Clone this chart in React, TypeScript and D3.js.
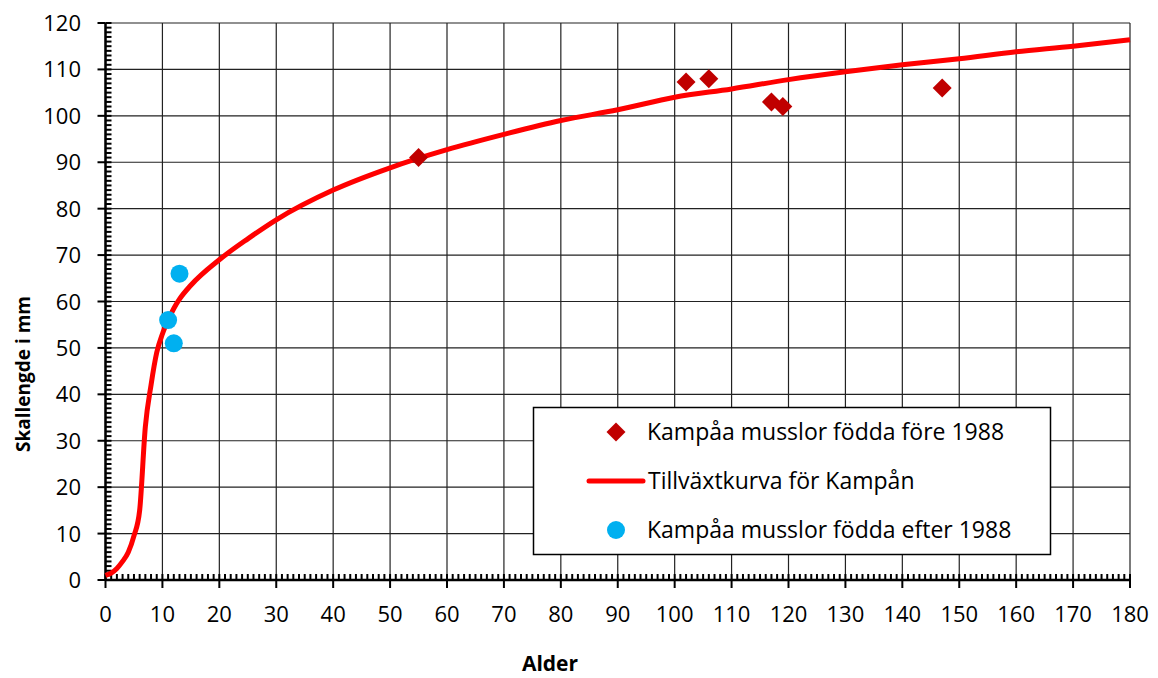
import { useMemo } from 'react';
import { scaleLinear, line, curveMonotoneX, range, symbol, symbolSquare } from 'd3';

// growth curve (age, shell length)
const curveAge = [0, 1, 2, 3, 4, 5, 6, 7, 8, 9, 10, 11, 12, 13, 15, 20, 25, 30, 40, 50, 60, 70, 80, 90, 100, 110, 120, 130, 140, 150, 160, 170, 180];
const curveLength = [1, 1.5, 2.5, 4, 6, 9.5, 15, 33, 42, 49, 53, 56, 58.5, 60.5, 63.5, 69, 73.5, 77.6, 84, 88.8, 92.7, 96, 99, 101.3, 104, 105.8, 107.8, 109.5, 111, 112.3, 113.8, 115, 116.4];

// mussels born before 1988
const oldAge = [55, 102, 106, 117, 119, 147];
const oldLength = [91, 107.3, 108, 103, 102, 106];

// mussels born after 1988
const youngAge = [11, 12, 13];
const youngLength = [56, 51, 66];

const xTicks = range(0, 181, 10);
const yTicks = range(0, 121, 10);

const legendLabels = [
  'Kampåa musslor födda före 1988',
  'Tillväxtkurva för Kampån',
  'Kampåa musslor födda efter 1988',
];

const W = 1158;
const H = 678;
const FONT = '"Open Sans", "Noto Sans", sans-serif';

export default function App() {
  const x = scaleLinear().domain([0, 180]).range([105.5, 1130]);
  const y = scaleLinear().domain([0, 120]).range([580, 23]);

  const curvePath = useMemo(() => {
    const pts = curveAge.map((a, i) => [a, curveLength[i]] as [number, number]);
    return line<[number, number]>()
      .x((d) => x(d[0]))
      .y((d) => y(d[1]))
      .curve(curveMonotoneX)(pts);
  }, []);

  // diamond = square turned 45 degrees
  const diamond = symbol().type(symbolSquare).size(180)() as string;
  const minorX = range(0, 181, 1);
  const minorY = range(0, 121, 1);

  return (
    <svg width={W} height={H} style={{ position: 'absolute', left: 0, top: 0, background: '#fff' }}>
      {/* grid */}
      <g stroke="#222" strokeWidth={1.2}>
        {xTicks.map((t) => (
          <line key={'gx' + t} x1={x(t)} x2={x(t)} y1={y(120)} y2={y(0)} />
        ))}
        {yTicks.map((t) => (
          <line key={'gy' + t} x1={x(0)} x2={x(180)} y1={y(t)} y2={y(t)} />
        ))}
      </g>

      {/* minor ticks, inside */}
      <g stroke="#000" strokeWidth={2}>
        {minorX.map((t) => (
          <line key={'mx' + t} x1={x(t)} x2={x(t)} y1={y(0)} y2={y(0) - 6} />
        ))}
        {minorY.map((t) => (
          <line key={'my' + t} x1={x(0)} x2={x(0) + 6} y1={y(t)} y2={y(t)} />
        ))}
      </g>

      {/* axes */}
      <g stroke="#000" strokeWidth={2.5}>
        <line x1={x(0)} x2={x(180)} y1={y(0)} y2={y(0)} />
        <line x1={x(0)} x2={x(0)} y1={y(0)} y2={y(120)} />
        {xTicks.map((t) => (
          <line key={'tx' + t} x1={x(t)} x2={x(t)} y1={y(0)} y2={y(0) + 8} strokeWidth={2} />
        ))}
        {yTicks.map((t) => (
          <line key={'ty' + t} x1={x(0) - 8} x2={x(0)} y1={y(t)} y2={y(t)} strokeWidth={2} />
        ))}
      </g>

      <g fontFamily={FONT} fontSize={22} fill="#000">
        {xTicks.map((t) => (
          <text key={'lx' + t} x={x(t)} y={622} textAnchor="middle">{t}</text>
        ))}
        {yTicks.map((t) => (
          <text key={'ly' + t} x={81} y={y(t) + 8} textAnchor="end">{t}</text>
        ))}
      </g>

      {/* series */}
      <path d={curvePath ?? ''} fill="none" stroke="#ff0000" strokeWidth={5} />
      {oldAge.map((a, i) => (
        <path key={'d' + i} d={diamond} transform={`translate(${x(a)},${y(oldLength[i])}) rotate(45)`} fill="#c00000" />
      ))}
      {youngAge.map((a, i) => (
        <circle key={'c' + i} cx={x(a)} cy={y(youngLength[i])} r={9} fill="#00b0f0" />
      ))}

      {/* legend */}
      <g>
        <rect x={533.5} y={407.5} width={517} height={147} fill="#fff" stroke="#000" strokeWidth={1.5} />
        <path d={diamond} transform="translate(616,432) rotate(45)" fill="#c00000" />
        <line x1={589} x2={643} y1={481} y2={481} stroke="#ff0000" strokeWidth={5} strokeLinecap="round" />
        <circle cx={616} cy={530} r={9} fill="#00b0f0" />
        <g fontFamily={FONT} fontSize={23} fill="#000">
          <text x={647} y={440}>{legendLabels[0]}</text>
          <text x={648} y={489}>{legendLabels[1]}</text>
          <text x={647} y={538}>{legendLabels[2]}</text>
        </g>
      </g>

      {/* axis titles */}
      <text x={550} y={671} textAnchor="middle" fontFamily={FONT} fontSize={21} fontWeight="bold">Alder</text>
      <text transform="translate(30,374) rotate(-90)" textAnchor="middle" fontFamily={FONT} fontSize={19} fontWeight="bold">Skallengde i mm</text>
    </svg>
  );
}
